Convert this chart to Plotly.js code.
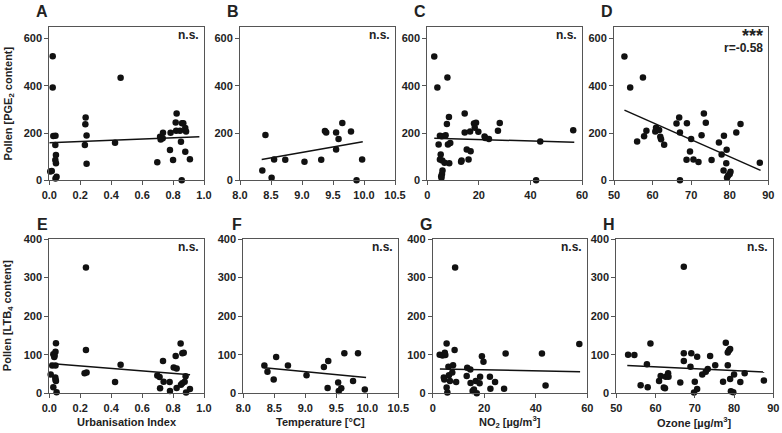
<!DOCTYPE html>
<html>
<head>
<meta charset="utf-8">
<script src="https://cdn.plot.ly/plotly-3.0.1.min.js"></script>
<style>html,body{margin:0;padding:0;background:#fff;}#chart{width:782px;height:433px;}</style>
</head>
<body>
<div id="chart"></div>
<script>
// ---- Data ----
// Panel A: PGE2 vs Urbanisation Index
const A_x = [0.022,0.022,0.006,0.016,0.026,0.040,0.039,0.043,0.039,0.043,0.047,0.040,0.235,0.233,0.241,0.230,0.241,0.425,0.461,0.698,0.716,0.720,0.733,0.735,0.780,0.784,0.800,0.823,0.817,0.820,0.845,0.851,0.858,0.866,0.856,0.879,0.884,0.879,0.909];
const A_y = [525,393,37,39,187,189,149,107,86,72,15,8,266,237,190,149,70,159,434,76,184,173,178,201,128,201,86,283,245,210,210,163,241,241,0,221,206,121,89];
// Panel B: PGE2 vs Temperature
const B_x = [8.36,8.41,8.51,8.55,8.73,9.04,9.31,9.37,9.39,9.55,9.55,9.59,9.65,9.79,9.88,9.97];
const B_y = [41,192,11,88,87,79,87,209,202,202,130,175,243,206,0,88];
// Panel C: PGE2 vs NO2
const C_x = [2.7,3.9,7.8,4.4,4.9,5.6,7.1,5.2,4.9,5.8,6.7,5.9,5.7,5.4,5.5,7.6,8.4,8.0,8.9,8.5,13.1,13.3,14.5,14.5,15.3,16.0,16.8,16.6,18.1,18.9,18.4,19.8,22.2,22.5,23.9,27.4,28.1,42.2,43.8,56.6];
const C_y = [524,393,435,151,189,186,191,109,88,84,74,41,27,17,11,238,268,151,158,72,79,84,283,202,130,88,123,206,240,244,222,205,185,179,175,210,243,0,164,212];
// Panel D: PGE2 vs Ozone
const D_x = [52.7,54.2,57.5,56.0,57.8,58.4,60.7,60.9,61.7,62.0,62.2,63.0,66.2,66.9,67.1,67.1,68.9,70.0,69.7,68.8,70.6,71.9,72.7,73.3,73.8,75.3,77.2,77.9,78.5,78.4,79.1,79.2,79.3,79.6,80.0,80.2,81.7,82.8,87.8];
const D_y = [524,393,435,164,186,210,206,222,213,184,174,150,240,266,202,0,241,175,122,87,88,77,191,283,244,86,160,109,189,41,72,129,11,20,27,36,202,238,74];
// Panel E: LTB4 vs Urbanisation Index
const E_x = [0.009,0.019,0.026,0.034,0.032,0.040,0.040,0.043,0.026,0.039,0.040,0.043,0.047,0.237,0.237,0.228,0.241,0.425,0.461,0.698,0.713,0.716,0.735,0.739,0.778,0.780,0.804,0.817,0.823,0.823,0.849,0.860,0.869,0.851,0.860,0.875,0.881,0.884,0.909];
const E_y = [49,72,101,98,94,72,108,130,16,41,35,32,3,326,112,52,54,29,74,46,42,13,84,30,29,6,67,97,64,14,129,104,105,22,26,30,44,2,11];
// Panel F: LTB4 vs Temperature
const F_x = [8.34,8.39,8.49,8.53,8.72,9.02,9.30,9.37,9.36,9.53,9.54,9.58,9.63,9.77,9.85,9.96];
const F_y = [72,56,36,94,72,47,68,84,14,28,6,13,104,32,104,10];
// Panel G: LTB4 vs NO2
const G_x = [2.7,3.8,4.7,4.9,5.4,8.5,8.7,4.3,4.5,5.4,5.7,6.1,6.3,6.7,7.6,7.9,9.1,13.2,13.4,14.6,14.7,15.5,16.0,16.7,17.1,18.2,18.4,19.1,19.7,22.2,22.4,24.2,27.7,28.3,42.4,43.8,56.9];
const G_y = [100,98,105,99,129,112,326,41,36,15,2,69,47,32,54,73,29,45,66,62,27,6,10,32,0,26,43,96,82,43,12,29,12,103,103,20,128];
// Panel H: LTB4 vs Ozone
const H_x = [53.0,54.6,56.2,57.8,58.0,58.7,60.9,61.3,62.1,62.4,62.6,63.2,63.3,66.3,67.2,67.2,67.2,68.9,69.1,70.0,69.8,70.6,70.6,71.9,72.8,73.3,73.9,75.2,77.2,77.9,78.4,78.4,78.7,79.0,79.0,79.2,79.8,80.0,81.6,82.7,87.6];
const H_y = [100,99,21,75,16,129,32,45,15,13,43,52,43,28,328,104,84,69,104,30,2,95,11,49,56,63,97,73,30,131,73,106,111,115,37,5,3,49,29,52,33];

// Regression lines (end points)
const fitX = [[0.0,0.97],[8.35,9.98],[2.7,57.0],[52.7,88.0],[0.005,0.91],[8.34,9.98],[2.8,57.2],[52.8,87.7]];
const fitY = [[159,184],[88,163],[178,161],[297,42],[77,48],[66,41],[63,56],[72,55]];

// Labels
const panelLetters = ['A','B','C','D','E','F','G','H'];
const statTexts = ['n.s.','n.s.','n.s.','***','n.s.','n.s.','n.s.','n.s.'];
const corrText = 'r=-0.58';
const xTitles = ['Urbanisation Index','Temperature [°C]','NO<sub>2</sub> [µg/m<sup>3</sup>]','Ozone [µg/m<sup>3</sup>]'];
const yTitles = ['Pollen [PGE<sub>2</sub> content]','Pollen [LTB<sub>4</sub> content]'];
const xRanges = [[0,1],[8,10.5],[0,60],[50,90]];
const xTicks = [[0,0.2,0.4,0.6,0.8,1.0],[8.0,8.5,9.0,9.5,10.0,10.5],[0,20,40,60],[50,60,70,80,90]];
const yTicksTop = [0,200,400,600];
const yTicksBot = [0,100,200,300,400];

// ---- Layout geometry (pixels) ----
const W = 782, H = 433;
const colsTop = [[49.3,204],[240,395],[427.3,582],[614,768.3]];
const colsBot = [[49.3,204],[243.3,398.3],[432.7,587.3],[616.3,773.3]];
const rowTop = [26.7,180.3], rowBot = [239,393.3];

const FONT = 'Liberation Sans, Arial, sans-serif';
const xsArr = [A_x,B_x,C_x,D_x,E_x,F_x,G_x,H_x];
const ysArr = [A_y,B_y,C_y,D_y,E_y,F_y,G_y,H_y];

const traces = [];
const layout = {
  width: W, height: H,
  margin: {l:0,r:0,t:0,b:0},
  paper_bgcolor: '#fff', plot_bgcolor: '#fff',
  showlegend: false,
  font: {family: FONT, color: '#222'},
  annotations: []
};

for (let i = 0; i < 8; i++) {
  const n = i + 1;
  const top = i < 4;
  const c = i % 4;
  const col = top ? colsTop[c] : colsBot[c];
  const row = top ? rowTop : rowBot;
  const xa = 'x' + (n === 1 ? '' : n), ya = 'y' + (n === 1 ? '' : n);
  traces.push({
    type: 'scatter', mode: 'markers', x: xsArr[i], y: ysArr[i],
    xaxis: xa, yaxis: ya, cliponaxis: false,
    marker: {size: 6.5, color: '#111'}, hoverinfo: 'skip'
  });
  traces.push({
    type: 'scatter', mode: 'lines', x: fitX[i], y: fitY[i],
    xaxis: xa, yaxis: ya, cliponaxis: false,
    line: {color: '#111', width: 1.5}, hoverinfo: 'skip'
  });
  const axBase = {
    showline: true, mirror: true, linecolor: '#555', linewidth: 1,
    ticks: 'outside', ticklen: 4, tickcolor: '#555', tickwidth: 1,
    showgrid: false, zeroline: false,
    tickfont: {family: FONT, size: 11, color: '#222', weight: 'bold'}
  };
  layout['xaxis' + (n === 1 ? '' : n)] = Object.assign({}, axBase, {
    domain: [col[0]/W, col[1]/W], anchor: ya,
    range: xRanges[c], tickmode: 'array', tickvals: xTicks[c],
    tickformat: (c < 2) ? '.1f' : 'd'
  });
  layout['yaxis' + (n === 1 ? '' : n)] = Object.assign({}, axBase, {
    domain: [1 - row[1]/H, 1 - row[0]/H], anchor: xa,
    range: top ? [0,650] : [0,400], tickmode: 'array',
    tickvals: top ? yTicksTop : yTicksBot
  });
  // Panel letter
  layout.annotations.push({
    xref: 'paper', yref: 'paper', x: (col[0] + 1)/W, y: 1 - (row[0] - 15)/H,
    xanchor: 'right', yanchor: 'middle', showarrow: false,
    text: '<b>' + panelLetters[i] + '</b>',
    font: {family: FONT, size: 16, color: '#222'}
  });
  // Statistic text
  const isStar = statTexts[i] === '***';
  layout.annotations.push({
    xref: 'paper', yref: 'paper', x: (col[1] - 3)/W, y: 1 - (row[0] + (isStar ? 9 : 8))/H,
    xanchor: 'right', yanchor: 'middle', align: 'right', showarrow: false,
    text: '<b>' + statTexts[i] + '</b>',
    font: {family: FONT, size: isStar ? 18 : 12, color: '#222'}
  });
  if (isStar) {
    layout.annotations.push({
      xref: 'paper', yref: 'paper', x: (col[1] - 3)/W, y: 1 - (row[0] + 21)/H,
      xanchor: 'right', yanchor: 'middle', align: 'right', showarrow: false,
      text: '<b>' + corrText + '</b>',
      font: {family: FONT, size: 12, color: '#222'}
    });
  }
  // X axis titles (bottom row only)
  if (!top) {
    layout.annotations.push({
      xref: 'paper', yref: 'paper', x: ((col[0] + col[1]) / 2)/W, y: 1 - 421.5/H,
      xanchor: 'center', yanchor: 'middle', showarrow: false,
      text: '<b>' + xTitles[c] + '</b>',
      font: {family: FONT, size: 11, color: '#222'}
    });
  }
}
// Y axis titles
[[rowTop,0],[rowBot,1]].forEach(function(p){
  const row = p[0];
  layout.annotations.push({
    xref: 'paper', yref: 'paper', x: 8/W, y: 1 - ((row[0] + row[1]) / 2)/H,
    xanchor: 'center', yanchor: 'middle', showarrow: false, textangle: -90,
    text: '<b>' + yTitles[p[1]] + '</b>',
    font: {family: FONT, size: 11, color: '#222'}
  });
});

Plotly.newPlot('chart', traces, layout, {displayModeBar: false, staticPlot: true});
</script>
</body>
</html>
